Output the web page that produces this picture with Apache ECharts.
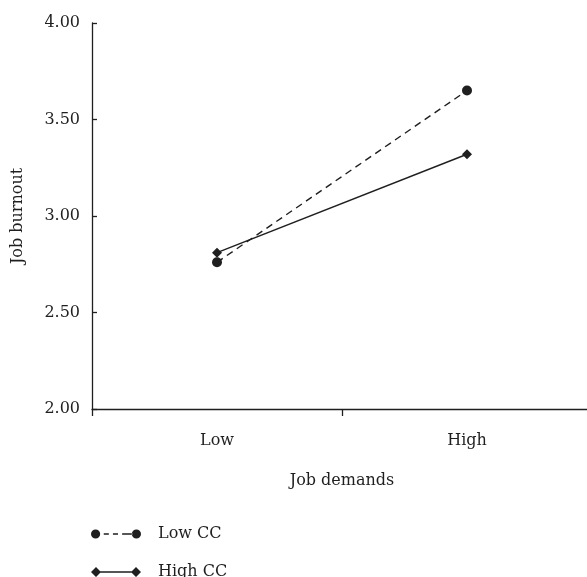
<!DOCTYPE html>
<html>
<head>
<meta charset="utf-8">
<script src="https://cdn.jsdelivr.net/npm/echarts@6/dist/echarts.min.js"></script>
<style>
html,body{margin:0;padding:0;background:#fff;}
#chart{width:587px;height:577px;}
</style>
</head>
<body>
<div id="chart"></div>
<script>
const categories = ['Low', 'High'];
const lowCC = [2.76, 3.65];
const highCC = [2.81, 3.32];
const yTicks = [2.0, 2.5, 3.0, 3.5, 4.0];
const seriesNames = ['Low CC', 'High CC'];

const FONT = 'DejaVu Serif';
const INK = '#1f1f1f';

const iconLow = 'path://M0.5,5A4.5,4.5 0 1,0 9.5,5A4.5,4.5 0 1,0 0.5,5Z' +
  'M13,4.3H18V5.7H13Z M22,4.3H27V5.7H22Z M31,4.3H36V5.7H31Z M36,4.3H41V5.7H36Z' +
  'M40.5,5A4.5,4.5 0 1,0 49.5,5A4.5,4.5 0 1,0 40.5,5Z';
const iconHigh = 'path://M0,5L5,0L10,5L5,10Z M9,4.3H41V5.7H9Z M40,5L45,0L50,5L45,10Z';

function legendFor(i, top, icon) {
  return {
    orient: 'vertical',
    left: 91,
    top: top,
    itemWidth: 50,
    itemHeight: 10,
    padding: 0,
    textStyle: {fontFamily: FONT, fontSize: 16, color: INK, padding: [0, 0, 0, 12]},
    itemStyle: {borderWidth: 0},
    data: [{name: seriesNames[i], icon: icon}]
  };
}

const chart = echarts.init(document.getElementById('chart'), null, {renderer: 'canvas'});
chart.setOption({
  backgroundColor: '#fff',
  animation: false,
  grid: {left: 92, right: -5, top: 23, bottom: 168, containLabel: false, outerBoundsMode: 'none'},
  legend: [legendFor(0, 526, iconLow), legendFor(1, 564, iconHigh)],
  xAxis: {
    type: 'category',
    data: categories,
    boundaryGap: true,
    name: 'Job demands',
    nameLocation: 'middle',
    nameGap: 64,
    nameTextStyle: {fontFamily: FONT, fontSize: 16, color: INK},
    axisLine: {show: true, lineStyle: {color: INK, width: 1.3}},
    axisTick: {show: true, inside: false, length: 7, alignWithLabel: false, lineStyle: {color: INK, width: 1.3}},
    axisLabel: {fontFamily: FONT, fontSize: 16, color: INK, margin: 24},
    splitLine: {show: false}
  },
  yAxis: {
    type: 'value',
    min: yTicks[0],
    max: yTicks[yTicks.length - 1],
    interval: 0.5,
    name: 'Job burnout',
    nameLocation: 'middle',
    nameGap: 66,
    nameTextStyle: {fontFamily: FONT, fontSize: 16, color: INK},
    axisLine: {show: true, lineStyle: {color: INK, width: 1.3}},
    axisTick: {show: true, inside: true, length: 5, lineStyle: {color: INK, width: 1.3}},
    axisLabel: {fontFamily: FONT, fontSize: 16, color: INK, margin: 12, formatter: v => v.toFixed(2)},
    splitLine: {show: false}
  },
  series: [
    {
      name: seriesNames[0],
      type: 'line',
      data: lowCC,
      symbol: 'circle',
      symbolSize: 10,
      color: INK,
      itemStyle: {color: INK, borderWidth: 0},
      lineStyle: {color: INK, width: 1.4, type: [7, 5]},
      z: 3
    },
    {
      name: seriesNames[1],
      type: 'line',
      data: highCC,
      symbol: 'diamond',
      symbolSize: 10,
      color: INK,
      itemStyle: {color: INK, borderWidth: 0},
      lineStyle: {color: INK, width: 1.4, type: 'solid'},
      z: 4
    }
  ]
});
</script>
</body>
</html>
